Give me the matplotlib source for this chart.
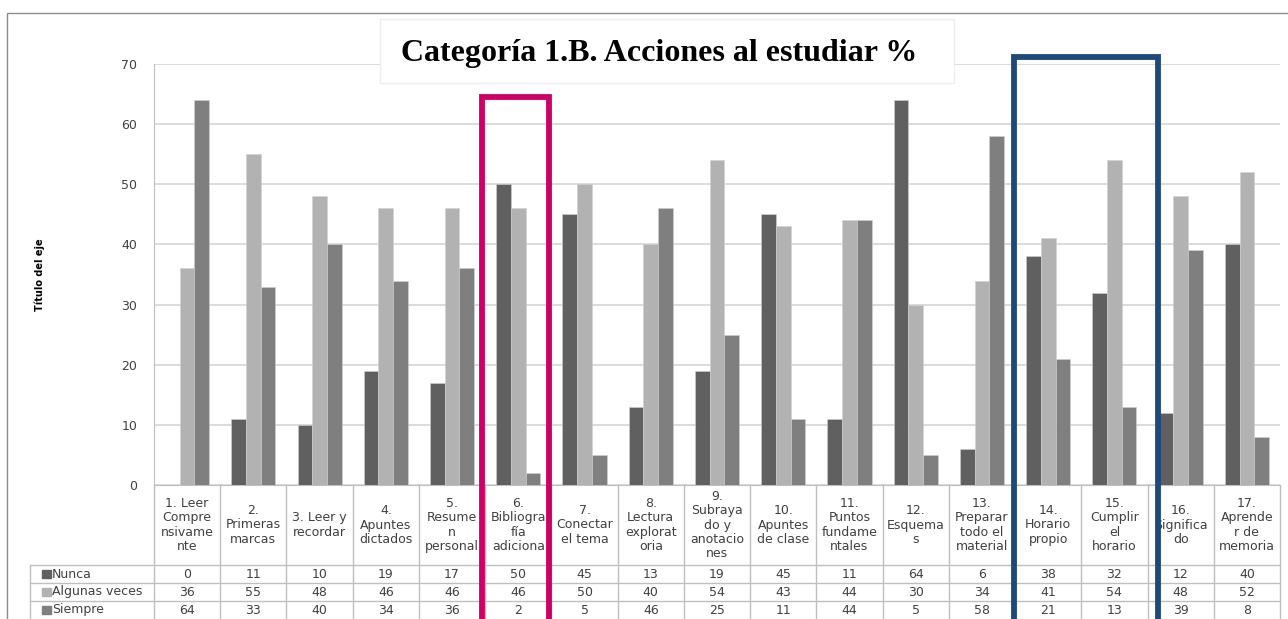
import matplotlib.pyplot as plt
import numpy as np
from matplotlib.patches import Rectangle
from matplotlib.lines import Line2D

# datos de la categoría 1.B (porcentajes)
categorias = [
    "1. Leer\nCompre\nnsivame\nnte", "2.\nPrimeras\nmarcas", "3. Leer y\nrecordar",
    "4.\nApuntes\ndictados", "5.\nResume\nn\npersonal", "6.\nBibliogra\nfía\nadiciona",
    "7.\nConectar\nel tema", "8.\nLectura\nexplorat\noria", "9.\nSubraya\ndo y\nanotacio\nnes",
    "10.\nApuntes\nde clase", "11.\nPuntos\nfundame\nntales", "12.\nEsquema\ns",
    "13.\nPreparar\ntodo el\nmaterial", "14.\nHorario\npropio", "15.\nCumplir\nel\nhorario",
    "16.\nSignifica\ndo", "17.\nAprende\nr de\nmemoria",
]
series = ["Nunca", "Algunas veces", "Siempre"]
nunca = [0, 11, 10, 19, 17, 50, 45, 13, 19, 45, 11, 64, 6, 38, 32, 12, 40]
algunas = [36, 55, 48, 46, 46, 46, 50, 40, 54, 43, 44, 30, 34, 41, 54, 48, 52]
siempre = [64, 33, 40, 34, 36, 2, 5, 46, 25, 11, 44, 5, 58, 21, 13, 39, 8]
yticks = [0, 10, 20, 30, 40, 50, 60, 70]

colores = ["#606060", "#b2b2b2", "#7f7f7f"]
W, H = 1288, 619
gris = "#bfbfbf"
texto = "#404040"
fs = 9

fig = plt.figure(figsize=(W / 100, H / 100), dpi=100)

# zona del gráfico en pixeles
x0, x1 = 154, 1280
y_top, y_base = 64, 485
ax = fig.add_axes([x0 / W, 1 - y_base / H, (x1 - x0) / W, (y_base - y_top) / H])

n = len(categorias)
x = np.arange(n)
ancho = 0.222
for k, (vals, col) in enumerate(zip([nunca, algunas, siempre], colores)):
    ax.bar(x + (k - 1) * ancho, vals, ancho, color=col, edgecolor="#d0d0d0",
           linewidth=0.4, zorder=3)

ax.set_xlim(-0.5, n - 0.5)
ax.set_ylim(0, 70)
ax.set_yticks(yticks)
ax.set_xticks([])
ax.tick_params(axis="y", length=0, pad=12, labelsize=fs, labelcolor=texto)
ax.yaxis.grid(True, color="#d9d9d9", linewidth=1.3, zorder=0)
for s in ["top", "right"]:
    ax.spines[s].set_visible(False)
ax.spines["left"].set_color(gris)
ax.spines["bottom"].set_color(gris)

cw = (x1 - x0) / n


def px2x(px):
    return -0.5 + (px - x0) / cw


# tabla de datos debajo del eje
tab = fig.add_axes([x0 / W, 0, (x1 - x0) / W, (H - y_base) / H], sharex=ax)
tab.set_ylim(H - y_base, 0)
tab.axis("off")
fila_h = 18
cab = 80
leg_x = px2x(30)

for i in range(n + 1):
    tab.add_line(Line2D([i - 0.5, i - 0.5], [0, 200], color=gris, lw=1, clip_on=False))
tab.add_line(Line2D([leg_x, leg_x], [cab, 200], color=gris, lw=1, clip_on=False))
for r in range(3):
    tab.add_line(Line2D([leg_x, n - 0.5], [cab + r * fila_h] * 2, color=gris, lw=1,
                        clip_on=False))

for i, cat in enumerate(categorias):
    tab.text(i, cab / 2, cat, ha="center", va="center", fontsize=fs, color=texto,
             linespacing=1.12, clip_on=False)

for r, (nombre, vals, col) in enumerate(zip(series, [nunca, algunas, siempre], colores)):
    yc = cab + r * fila_h + fila_h / 2
    tab.add_patch(Rectangle((px2x(42), yc - 4), 9 / cw, 8, color=col, clip_on=False))
    tab.text(px2x(52), yc, nombre, ha="left", va="center", fontsize=fs, color=texto,
             clip_on=False)
    for i, v in enumerate(vals):
        tab.text(i, yc, str(v), ha="center", va="center", fontsize=fs, color=texto,
                 clip_on=False)

# marco exterior del gráfico
fig.add_artist(Rectangle((7 / W, -0.1), 1.2, 1.1 - 13 / H, transform=fig.transFigure,
                         fill=False, edgecolor="#8c8c8c", lw=1, zorder=1))

fig.text(40 / W, 1 - 275 / H, "Título del eje", rotation=90, ha="center", va="center",
         fontsize=7, fontweight="bold", family=["Liberation Sans Narrow", "DejaVu Sans"])

# cuadro del título
fig.add_artist(Rectangle((380 / W, 1 - 83 / H), 574 / W, 64 / H, transform=fig.transFigure,
                         facecolor="white", edgecolor="#eeeeee", lw=1, zorder=5))
fig.text(659 / W, 1 - 53 / H, "Categoría 1.B. Acciones al estudiar %", ha="center",
         va="center", fontsize=23, fontweight="bold", family="Liberation Serif", zorder=6)

# recuadros de resaltado
fig.add_artist(Rectangle((481.5 / W, -0.05), 67.5 / W, 0.05 + 1 - 97 / H,
                         transform=fig.transFigure, fill=False, edgecolor="#cc0066",
                         lw=4.2, zorder=10))
fig.add_artist(Rectangle((1014 / W, -0.05), 144 / W, 0.05 + 1 - 57 / H,
                         transform=fig.transFigure, fill=False, edgecolor="#1f497d",
                         lw=4.2, zorder=10))

fig.savefig("out.png", dpi=100)
